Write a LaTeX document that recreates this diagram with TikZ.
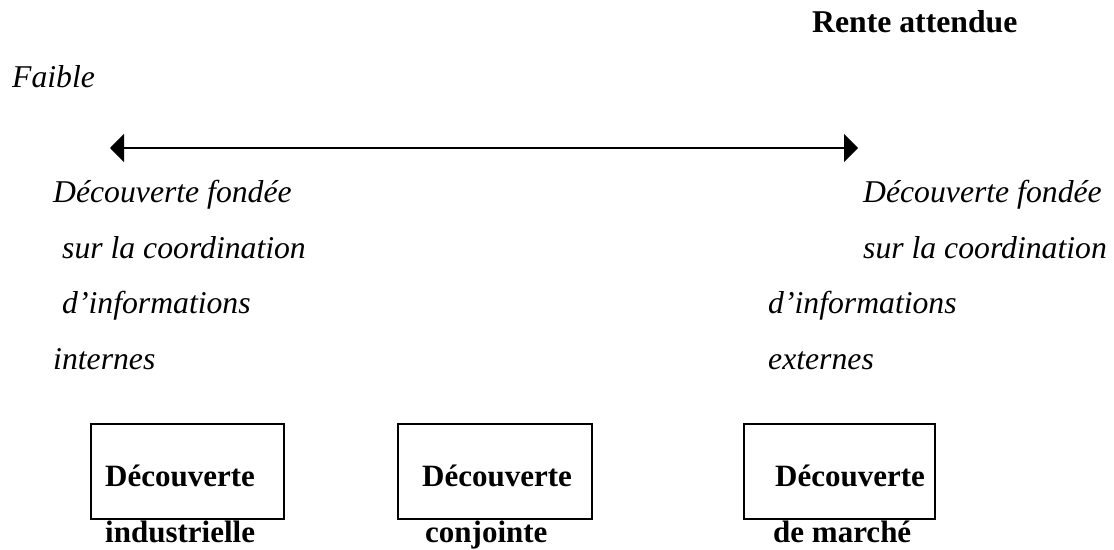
\documentclass[tikz,border=0pt]{standalone}
\usepackage{fontspec}
\setmainfont{Liberation Serif}
\usetikzlibrary{arrows.meta}
\tikzset{
  txt/.style={anchor=base west, inner sep=0pt, font=\fontsize{31.7}{38}\selectfont},
  itxt/.style={txt, font=\fontsize{31.7}{38}\selectfont\itshape},
  btxt/.style={txt, font=\fontsize{31.7}{38}\selectfont\bfseries},
  bbtxt/.style={txt, font=\fontsize{31}{37}\selectfont\bfseries},
  boxnode/.style={draw, line width=2pt, anchor=north west, inner sep=0pt, minimum height=95pt},
  axis/.style={line width=2pt, {Triangle[length=14pt,width=28pt]}-{Triangle[length=14pt,width=28pt]}}
}
\begin{document}
\begin{tikzpicture}[x=1pt,y=-1pt]
\useasboundingbox (0,0) rectangle (1114,549);
\node[btxt] (rente) at (812,32) {Rente attendue};
\node[itxt] (faible) at (12,87) {Faible};
\coordinate (L) at (110,148);
\coordinate (R) at (858,148);
\draw[axis] (L) -- (R);
\node[itxt] (l1) at (53,202) {Découverte fondée};
\node[itxt] (l2) at (62,258) {sur la coordination};
\node[itxt] (l3) at (62,313) {d’informations};
\node[itxt] (l4) at (53,369) {internes};
\node[itxt] (r1) at (863,202) {Découverte fondée};
\node[itxt] (r2) at (863,258) {sur la coordination};
\node[itxt] (r3) at (768,313) {d’informations};
\node[itxt] (r4) at (768,369) {externes};
\node[boxnode, minimum width=193pt] (b1) at (90,423) {};
\node[boxnode, minimum width=194pt] (b2) at (397,423) {};
\node[boxnode, minimum width=191pt] (b3) at (743,423) {};
\node[bbtxt] (t1) at (105,486) {Découverte};
\node[bbtxt] (t2) at (422,486) {Découverte};
\node[bbtxt] (t3) at (775,486) {Découverte};
\node[bbtxt] (u1) at (105,542) {industrielle};
\node[bbtxt] (u2) at (425,542) {conjointe};
\node[bbtxt] (u3) at (773,542) {de marché};
\end{tikzpicture}
\end{document}
